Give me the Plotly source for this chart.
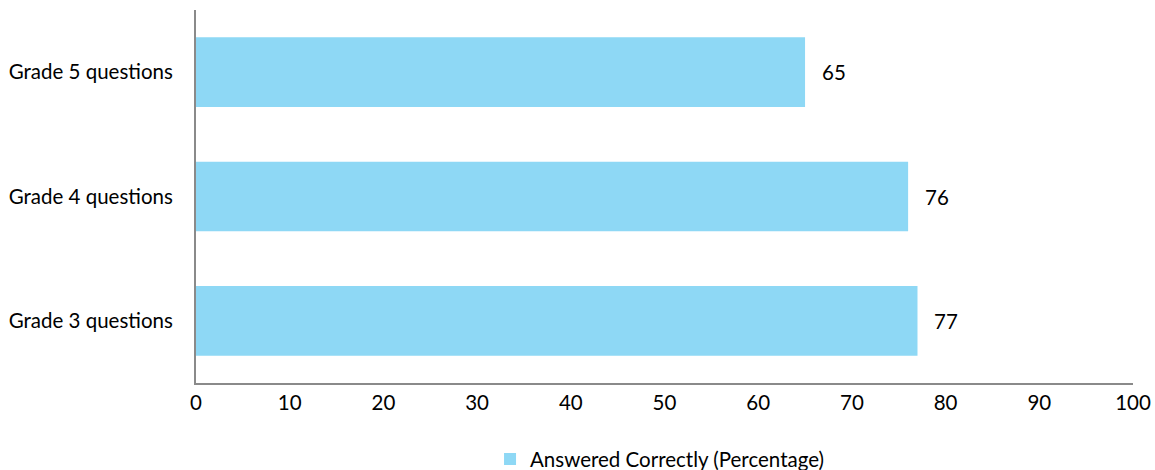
import plotly.graph_objects as go

categories = ["Grade 3 questions", "Grade 4 questions", "Grade 5 questions"]
values = [77, 76, 65]
series_name = "Answered Correctly (Percentage)"
x_ticks = [0, 10, 20, 30, 40, 50, 60, 70, 80, 90, 100]

FONT = "Lato, 'Open Sans', sans-serif"
FS = 20.5
BAR = "#8ED8F5"

fig = go.Figure()
fig.add_trace(go.Bar(
    y=categories, x=values, orientation="h", name=series_name,
    marker=dict(color=BAR, line=dict(width=0)),
    showlegend=True,
))
for c, v in zip(categories, values):
    fig.add_annotation(x=v, y=c, text=str(v), showarrow=False,
                       xanchor="left", xshift=15,
                       font=dict(family=FONT, size=FS, color="#000000"))

fig.update_layout(
    width=1155, height=470,
    margin=dict(l=196, r=22, t=10, b=87, autoexpand=False),
    paper_bgcolor="white", plot_bgcolor="white",
    bargap=0.44,
    font=dict(family=FONT, size=FS, color="#000000"),
    legend=dict(orientation="h", x=0.4947, xref="paper", xanchor="center",
                y=0.023, yref="container", yanchor="middle",
                font=dict(family=FONT, size=FS),
                itemsizing="constant"),
    xaxis=dict(range=[0, 100], tickvals=x_ticks, showgrid=False, zeroline=False,
               showline=True, linecolor="#8a8a8a", linewidth=2, ticks="",
               automargin=False,
               tickfont=dict(family=FONT, size=FS), ticklabelstandoff=0),
    yaxis=dict(categoryorder="array", categoryarray=categories, showgrid=False,
               showline=True, linecolor="#8a8a8a", linewidth=2, ticks="",
               automargin=False,
               tickfont=dict(family=FONT, size=FS), ticklabelstandoff=17),
)

fig.write_html("out.html", config={"displayModeBar": False},
               post_script="document.body.style.margin='0';")
